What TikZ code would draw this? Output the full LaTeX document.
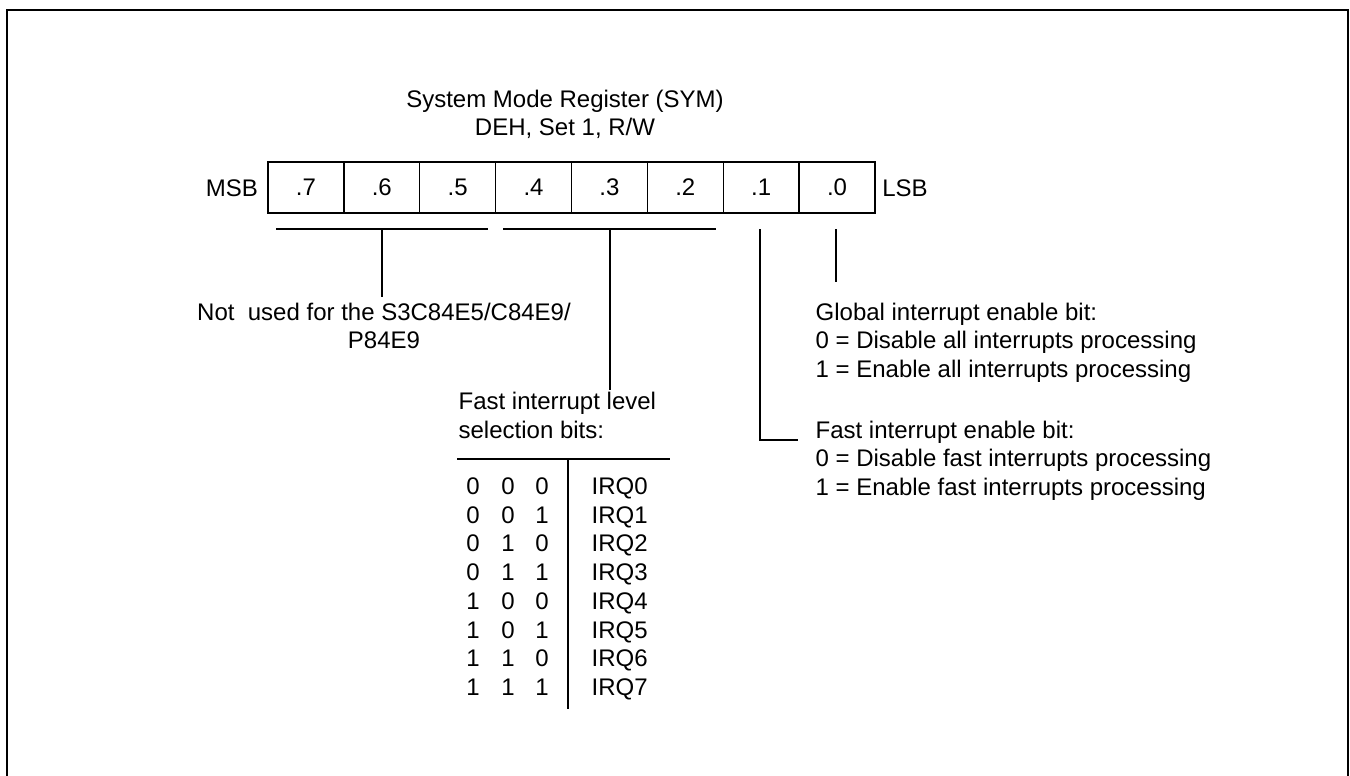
\documentclass[tikz,border=0pt]{standalone}
\usepackage{fontspec}
\setmainfont{Liberation Sans}
\begin{document}
\begin{tikzpicture}[x=1pt,y=-1pt, line width=1.3pt,
  txt/.style={inner sep=0pt, font=\fontsize{24}{28.8}\selectfont},
  cell/.style={draw, minimum width=75.875pt, minimum height=51pt, inner sep=0pt, font=\fontsize{24}{28.8}\selectfont},
  frame/.style={line width=2.3pt}]
\useasboundingbox (0,0) rectangle (1350,776);
% outer frame
\draw[frame] (7,778) -- (7,10) -- (1348,10) -- (1348,778);
% title
\node[txt, anchor=base] (title) at (565,107) {System Mode Register (SYM)};
\node[txt, anchor=base] (addr) at (565,135) {DEH, Set 1, R/W};
% register cells
\foreach \b [count=\i from 0] in {7,6,5,4,3,2,1,0}
  \node[cell] (b\b) at ({268+75.875*(\i+0.5)},187.5) {.\b};
\node[txt, anchor=base] (msb) at (232,196.5) {MSB};
\node[txt, anchor=base] (lsb) at (905,196.5) {LSB};
% brackets and leads
\coordinate (g1a) at (276,229);
\coordinate (g1b) at (488,229);
\coordinate (g1m) at (382,229);
\coordinate (g1e) at (382,297);
\coordinate (g2a) at (503,229);
\coordinate (g2b) at (716,229);
\coordinate (g2m) at (610,229);
\coordinate (g2e) at (610,390);
\coordinate (f1a) at (760,229);
\coordinate (f1c) at (760,440);
\coordinate (f1e) at (798,440);
\coordinate (f0a) at (836,229);
\coordinate (f0e) at (836,282);
\draw (g1a) -- (g1b);
\draw (g1m) -- (g1e);
\draw (g2a) -- (g2b);
\draw (g2m) -- (g2e);
\draw (f1a) -- (f1c) -- (f1e);
\draw (f0a) -- (f0e);
% descriptions (base anchor = baseline of last line)
\node[txt, align=center, anchor=base] (nu) at (384,348.8) {Not~~used for the S3C84E5/C84E9/\\P84E9};
\node[txt, align=left, anchor=base west] (gie) at (815,377.6) {Global interrupt enable bit:\\0 = Disable all interrupts processing\\1 = Enable all interrupts processing};
\node[txt, align=left, anchor=base west] (fie) at (815,495.6) {Fast interrupt enable bit:\\0 = Disable fast interrupts processing\\1 = Enable fast interrupts processing};
\node[txt, align=left, anchor=base west] (fls) at (458,438.5) {Fast interrupt level\\selection bits:};
% table
\coordinate (th1) at (457,459);
\coordinate (th2) at (670,459);
\coordinate (tv1) at (568,459);
\coordinate (tv2) at (568,709);
\draw (th1) -- (th2);
\draw (tv1) -- (tv2);
\foreach \a/\bb/\c [count=\r from 0] in {0/0/0,0/0/1,0/1/0,0/1/1,1/0/0,1/0/1,1/1/0,1/1/1}{
  \node[txt, anchor=base] (ra\r) at (473,{494.5+28.7*\r}) {\a};
  \node[txt, anchor=base] (rb\r) at (508,{494.5+28.7*\r}) {\bb};
  \node[txt, anchor=base] (rc\r) at (542,{494.5+28.7*\r}) {\c};
  \node[txt, anchor=base west] (irq\r) at (591,{494.5+28.7*\r}) {IRQ\r};
}
\end{tikzpicture}
\end{document}
